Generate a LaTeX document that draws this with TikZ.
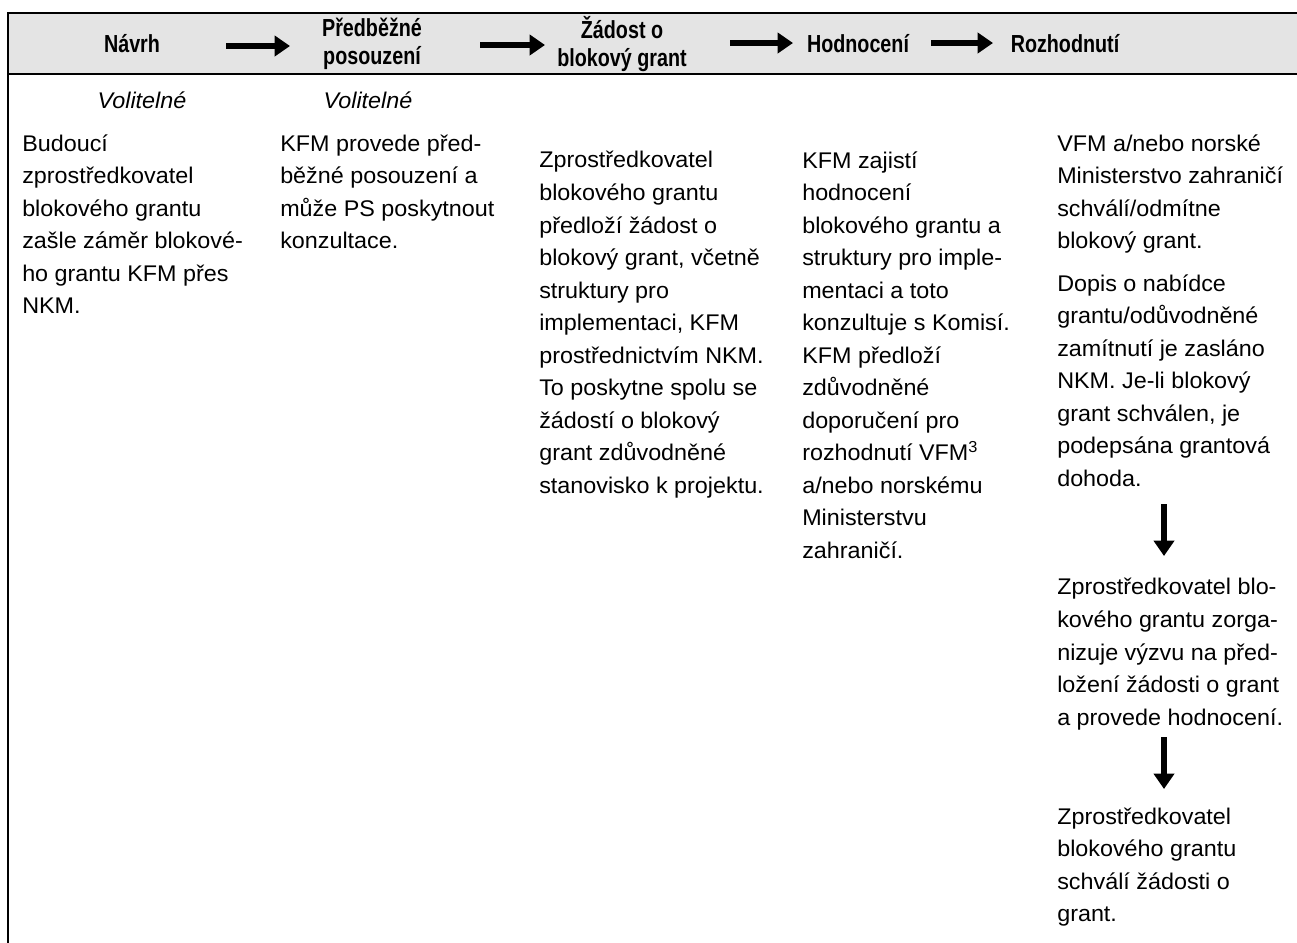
\documentclass[tikz,border=0pt]{standalone}
\usepackage{fontspec}
\setmainfont{Liberation Sans}
\newfontfamily\bodyfont[FakeStretch=1.03]{Liberation Sans}
\newfontfamily\hdrfont[FakeStretch=0.8]{Liberation Sans}
\usetikzlibrary{arrows.meta}
\definecolor{hdrgray}{HTML}{E4E4E4}
\begin{document}
\begin{tikzpicture}[x=0.75pt,y=-0.75pt,
  body/.style={anchor=base west, inner sep=0pt, align=left, font=\bodyfont\fontsize{17pt}{24.4pt}\selectfont},
  opt/.style={anchor=base, inner sep=0pt, font=\bodyfont\itshape\fontsize{17pt}{24.4pt}\selectfont},
  hdr/.style={anchor=center, inner sep=0pt, align=center, font=\hdrfont\bfseries\fontsize{18.5pt}{21pt}\selectfont},
  flow/.style={line width=4.2pt, -{Triangle[length=11.5pt,width=15pt]}},
  frame/.style={line width=1.5pt}]
\useasboundingbox (0,0) rectangle (1297,943);
% header band and frame
\fill[hdrgray] (8,13) rectangle (1297,74);
\draw[frame] (1297,13) -- (8,13) -- (8,943);
\draw[frame] (8,74) -- (1297,74);
% header titles
\node[hdr] (navrh) at (132,44) {Návrh};
\node[hdr] (predb) at (372,44) {Předběžné\\posouzení};
\node[hdr] (zadost) at (622,44) {Žádost o\\blokový grant};
\node[hdr] (hodn) at (858,44) {Hodnocení};
\node[hdr] (rozh) at (1065,44) {Rozhodnutí};
% header arrows
\coordinate (h1a) at (226,46); \coordinate (h1b) at (290,46);
\coordinate (h2a) at (480,45); \coordinate (h2b) at (545,45);
\coordinate (h3a) at (730,43); \coordinate (h3b) at (793,43);
\coordinate (h4a) at (931,43); \coordinate (h4b) at (993,43);
\draw[flow] (h1a) -- (h1b);
\draw[flow] (h2a) -- (h2b);
\draw[flow] (h3a) -- (h3b);
\draw[flow] (h4a) -- (h4b);
% optional labels
\node[opt] (opt1) at (142,108) {Volitelné};
\node[opt] (opt2) at (368,108) {Volitelné};
% columns (base anchor = baseline of the last line)
\node[body] (c1) at (22,313.7) {Budoucí\\zprostředkovatel\\blokového grantu\\zašle záměr blokové-\\ho grantu KFM přes\\NKM.};
\node[body] (c2) at (280,248.6) {KFM provede před-\\běžné posouzení a\\může PS poskytnout\\konzultace.};
\node[body] (c3) at (539,493.3) {Zprostředkovatel\\blokového grantu\\předloží žádost o\\blokový grant, včetně\\struktury pro\\implementaci, KFM\\prostřednictvím NKM.\\To poskytne spolu se\\žádostí o blokový\\grant zdůvodněné\\stanovisko k projektu.};
\node[body] (c4) at (802,558.4) {KFM zajistí\\hodnocení\\blokového grantu a\\struktury pro imple-\\mentaci a toto\\konzultuje s Komisí.\\KFM předloží\\zdůvodněné\\doporučení pro\\rozhodnutí VFM\textsuperscript{3}\\a/nebo norskému\\Ministerstvu\\zahraničí.};
\node[body] (c5a) at (1057,248.6) {VFM a/nebo norské\\Ministerstvo zahraničí\\schválí/odmítne\\blokový grant.};
\node[body] (c5b) at (1057,486.2) {Dopis o nabídce\\grantu/odůvodněné\\zamítnutí je zasláno\\NKM. Je-li blokový\\grant schválen, je\\podepsána grantová\\dohoda.};
\node[body] (c5c) at (1057,725.1) {Zprostředkovatel blo-\\kového grantu zorga-\\nizuje výzvu na před-\\ložení žádosti o grant\\a provede hodnocení.};
\node[body] (c5d) at (1057,921.6) {Zprostředkovatel\\blokového grantu\\schválí žádosti o\\grant.};
% vertical arrows
\coordinate (v1a) at (1164,504); \coordinate (v1b) at (1164,556);
\coordinate (v2a) at (1164,737); \coordinate (v2b) at (1164,789);
\draw[flow] (v1a) -- (v1b);
\draw[flow] (v2a) -- (v2b);
\end{tikzpicture}
\end{document}
